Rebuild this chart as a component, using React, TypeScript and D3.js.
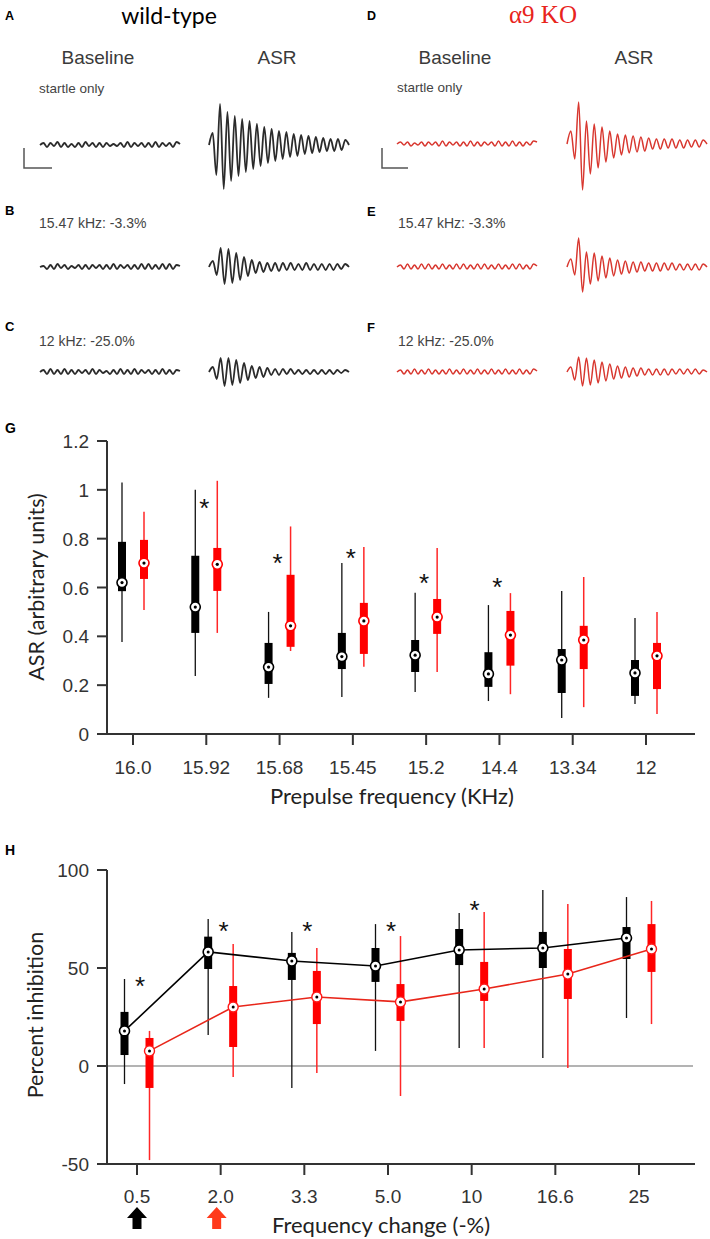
import React from 'react';
import * as d3 from 'd3';

// ---------- Panel G data (ASR vs prepulse frequency) ----------
const gCategories = ['16.0', '15.92', '15.68', '15.45', '15.2', '14.4', '13.34', '12'];
const gWtHigh = [1.03, 1.0, 0.5, 0.7, 0.578, 0.528, 0.586, 0.475];
const gWtQ3 = [0.787, 0.73, 0.373, 0.414, 0.385, 0.335, 0.348, 0.303];
const gWtMedian = [0.62, 0.52, 0.274, 0.317, 0.323, 0.246, 0.303, 0.25];
const gWtQ1 = [0.585, 0.414, 0.205, 0.266, 0.254, 0.193, 0.168, 0.156];
const gWtLow = [0.377, 0.238, 0.148, 0.152, 0.172, 0.135, 0.066, 0.123];
const gKoHigh = [0.91, 1.037, 0.85, 0.766, 0.762, 0.577, 0.643, 0.5];
const gKoQ3 = [0.795, 0.762, 0.652, 0.537, 0.553, 0.504, 0.443, 0.373];
const gKoMedian = [0.7, 0.695, 0.443, 0.463, 0.479, 0.405, 0.385, 0.32];
const gKoQ1 = [0.635, 0.586, 0.357, 0.328, 0.41, 0.28, 0.266, 0.184];
const gKoLow = [0.508, 0.414, 0.34, 0.275, 0.254, 0.163, 0.11, 0.082];
const gStarCats = ['15.92', '15.68', '15.45', '15.2', '14.4'];
const gStarValues = [0.95, 0.725, 0.746, 0.643, 0.627];
const gYTicks = [0, 0.2, 0.4, 0.6, 0.8, 1, 1.2];

// ---------- Panel H data (percent inhibition) ----------
const hCategories = ['0.5', '2.0', '3.3', '5.0', '10', '16.6', '25'];
const hWtHigh = [44.4, 75, 68.4, 72.4, 78, 89.8, 86.2];
const hWtQ3 = [27.6, 66, 57.7, 60.2, 69.9, 68.4, 70.9];
const hWtMedian = [17.9, 58.2, 53.6, 51, 59.2, 60.2, 65.3];
const hWtQ1 = [5.6, 49.5, 43.9, 42.9, 51.5, 50, 54.6];
const hWtLow = [-9.2, 15.8, -11.2, 7.7, 9.2, 4.1, 24.5];
const hKoHigh = [17.9, 62.2, 60.2, 66.3, 78.6, 82.6, 84.2];
const hKoQ3 = [14.3, 40.8, 48.5, 41.8, 53.1, 59.7, 72.4];
const hKoMedian = [7.7, 30.1, 35.2, 32.7, 39.3, 46.9, 59.7];
const hKoQ1 = [-11.2, 9.7, 21.4, 23, 33.2, 34.2, 48];
const hKoLow = [-48, -5.6, -3.6, -15.3, 9.2, -1, 21.4];
const hStarCats = ['0.5', '2.0', '3.3', '5.0', '10'];
const hStarValues = [43.9, 72, 72, 72, 82.7];
const hYTicks = [-50, 0, 50, 100];
const hArrowCats = ['0.5', '2.0'];
const hArrowColors = ['#000000', '#ff3a1c'];

// ---------- Trace data (successive extrema, arbitrary units) ----------
const traceBaseA = [0, 2, -2, 2, -1, 3, -2, 2, -2, 1, -2, 2, -2, 3, -1, 2, -2, 2, -2, 2, -1, 1, -1, 2, -2, 3, -2, 2, -1, 2, -2, 2, -2, 3, -2, 2, -1, 2, -2, 3, 1];
const traceAsrA = [0, 12, -30, 41, -44, 33, -36, 29, -31, 26, -27, 24, -24, 21, -21, 18, -18, 16, -16, 14, -14, 13, -12, 11, -11, 10, -9, 9, -8, 8, -7, 7, -6, 6, -6, 6, -5, 5, 0];
const traceBaseB = [0, 1, -2, 2, -2, 3, -1, 2, -2, 1, -1, 2, -2, 2, -2, 2, -1, 2, -2, 2, -2, 3, -2, 2, -1, 2, -2, 2, -2, 3, -2, 3, -2, 2, -2, 3, -2, 3, -2, 2, 1];
const traceAsrB = [0, 6, -8, 19, -17, 18, -16, 14, -13, 10, -9, 7, -6, 5, -5, 4, -4, 4, -4, 4, -3, 4, -3, 3, -3, 4, -3, 3, -3, 3, -3, 3, -3, 3, -2, 3, 0];
const traceBaseC = [0, 2, -2, 3, -2, 2, -2, 3, -2, 2, -2, 2, -1, 2, -2, 3, -2, 2, -1, 1, -2, 2, -2, 3, -2, 2, -2, 3, -2, 2, -1, 2, -2, 2, -2, 3, -2, 2, -2, 2, 1];
const traceAsrC = [0, 5, -7, 14, -14, 14, -13, 12, -11, 9, -8, 6, -6, 5, -5, 4, -3, 3, -3, 3, -2, 3, -2, 2, -2, 2, -2, 2, -2, 2, -2, 2, -2, 2, -1, 2, 0];
const traceBaseD = [0, 2, -1, 2, -2, 1, -1, 2, -2, 2, -1, 2, -2, 3, -2, 2, -1, 2, -2, 2, -2, 3, -2, 2, -2, 2, -1, 2, -2, 3, -2, 2, -2, 3, -2, 2, -2, 2, -1, 3, 2];
const traceAsrD = [0, 13, -15, 42, -46, 23, -30, 20, -24, 17, -18, 13, -14, 10, -11, 9, -9, 8, -8, 7, -7, 6, -5, 5, -5, 5, -4, 5, -4, 4, -4, 4, -3, 4, -3, 4, 0];
const traceBaseE = [0, 2, -2, 3, -2, 2, -2, 3, -2, 3, -2, 2, -2, 3, -2, 2, -2, 3, -2, 3, -2, 2, -2, 3, -2, 3, -2, 2, -2, 3, -2, 2, -2, 3, -2, 3, -2, 2, -2, 3, 1];
const traceAsrE = [0, 8, -8, 29, -25, 15, -17, 14, -14, 11, -11, 9, -9, 7, -7, 6, -6, 5, -5, 5, -4, 4, -4, 4, -4, 4, -3, 4, -3, 3, -3, 3, -3, 3, -3, 3, 0];
const traceBaseF = [0, 2, -2, 2, -2, 3, -2, 2, -2, 3, -2, 2, -2, 2, -2, 3, -2, 2, -2, 3, -2, 2, -2, 3, -2, 2, -2, 3, -2, 2, -2, 3, -2, 2, -2, 3, -2, 2, -2, 3, 1];
const traceAsrF = [0, 5, -8, 15, -14, 14, -13, 12, -11, 10, -9, 8, -7, 6, -6, 5, -5, 4, -4, 4, -3, 3, -3, 3, -3, 3, -3, 3, -2, 3, -2, 3, -2, 3, -2, 2, 0];

const SANS = '"Liberation Sans", Arial, sans-serif';
const CAL = 'Lato, "Open Sans", sans-serif';
const SERIF = '"Liberation Serif", "Times New Roman", serif';
const BLACK_TRACE = '#2b2b2b';
const RED_TRACE = '#d8372f';

function tracePath(values: number[], x0: number, x1: number, cy: number) {
  const xs = d3.scaleLinear().domain([0, values.length - 1]).range([x0, x1]);
  const ys = d3.scaleLinear().domain([-50, 50]).range([cy + 50, cy - 50]);
  return d3
    .line<number>()
    .x((_, i) => xs(i))
    .y((d) => ys(d))
    .curve(d3.curveMonotoneX)(values) as string;
}

type BoxProps = {
  x: number;
  y: (v: number) => number;
  low: number;
  q1: number;
  med: number;
  q3: number;
  high: number;
  ko: boolean;
};

function Box({ x, y, low, q1, med, q3, high, ko }: BoxProps) {
  const bw = 8;
  const fill = ko ? '#ff0000' : '#000000';
  const wc = ko ? '#ff2626' : '#111111';
  return (
    <g>
      <line x1={x} x2={x} y1={y(high)} y2={y(low)} stroke={wc} strokeWidth={ko ? 1.5 : 1.3} />
      <rect x={x - bw / 2} width={bw} y={y(q3)} height={y(q1) - y(q3)} fill={fill} />
      <circle cx={x} cy={y(med)} r={5} fill="#fff" stroke={fill} strokeWidth={1.6} />
      <circle cx={x} cy={y(med)} r={1.6} fill="#000" />
    </g>
  );
}

function Star({ x, y }: { x: number; y: number }) {
  return (
    <text x={x} y={y + 15} textAnchor="middle" fontFamily={SANS} fontSize={26} fill="#111">
      *
    </text>
  );
}

export default function App() {
  const gx = d3.scalePoint<string>().domain(gCategories).range([133, 646]);
  const gy = d3.scaleLinear().domain([0, 1.2]).range([734, 441]);
  const hx = d3.scalePoint<string>().domain(hCategories).range([137, 639]);
  const hy = d3.scaleLinear().domain([-50, 100]).range([1164, 870]);
  const gOff = 11;
  const hOff = 12.5;

  const hLine = (meds: number[], off: number) =>
    d3
      .line<number>()
      .x((_, i) => (hx(hCategories[i]) as number) + off)
      .y((d) => hy(d))(meds) as string;

  const axisColor = '#333';
  const tickText = '#333';

  const traceRows = [
    { cy: 145, base: traceBaseA, asr: traceAsrA, side: 0 },
    { cy: 267, base: traceBaseB, asr: traceAsrB, side: 0 },
    { cy: 372, base: traceBaseC, asr: traceAsrC, side: 0 },
    { cy: 144, base: traceBaseD, asr: traceAsrD, side: 1 },
    { cy: 267, base: traceBaseE, asr: traceAsrE, side: 1 },
    { cy: 372, base: traceBaseF, asr: traceAsrF, side: 1 },
  ];

  return (
    <svg
      width={710}
      height={1239}
      viewBox="0 0 710 1239"
      style={{ position: 'absolute', left: 0, top: 0, background: '#fff' }}
    >
      <rect x={0} y={0} width={710} height={1239} fill="#fff" />

      {/* ---------- Panel letters ---------- */}
      {[
        ['A', 5, 20, 12.5],
        ['D', 367, 20, 12.5],
        ['B', 5, 215, 13],
        ['E', 367, 216, 13],
        ['C', 5, 331, 13],
        ['F', 367, 332, 13],
        ['G', 5, 433, 14],
        ['H', 5, 855, 14],
      ].map(([t, x, y, s]) => (
        <text key={t as string} x={x as number} y={y as number} fontFamily={SANS} fontWeight="bold" fontSize={s as number} fill="#000">
          {t}
        </text>
      ))}

      {/* ---------- Titles ---------- */}
      <text x={169} y={23.5} textAnchor="middle" fontFamily={CAL} fontSize={23} fill="#000">
        wild-type
      </text>
      <text x={543} y={23} textAnchor="middle" fontFamily={SERIF} fontSize={25} fill="#e8241c">
        α9 KO
      </text>
      {[
        ['Baseline', 98],
        ['ASR', 277],
        ['Baseline', 455],
        ['ASR', 634],
      ].map(([t, x], i) => (
        <text key={i} x={x as number} y={64} textAnchor="middle" fontFamily={SANS} fontSize={19} fill="#3a3a3a">
          {t}
        </text>
      ))}
      <text x={39} y={93} fontFamily={SANS} fontSize={13.5} fill="#444">startle only</text>
      <text x={397} y={92} fontFamily={SANS} fontSize={13.5} fill="#444">startle only</text>
      <text x={39} y={228} fontFamily={SANS} fontSize={14} fill="#444">15.47 kHz: -3.3%</text>
      <text x={398} y={228} fontFamily={SANS} fontSize={14} fill="#444">15.47 kHz: -3.3%</text>
      <text x={39} y={346} fontFamily={SANS} fontSize={14} fill="#444">12 kHz: -25.0%</text>
      <text x={398} y={346} fontFamily={SANS} fontSize={14} fill="#444">12 kHz: -25.0%</text>

      {/* scale bars */}
      <path d="M24,148 V168 H52" fill="none" stroke="#555" strokeWidth={1.5} />
      <path d="M382,148 V168 H408" fill="none" stroke="#555" strokeWidth={1.5} />

      {/* ---------- Traces ---------- */}
      {traceRows.map((r, i) => {
        const bx0 = r.side === 0 ? 40 : 397;
        const ax0 = r.side === 0 ? 209 : 567;
        const col = r.side === 0 ? BLACK_TRACE : RED_TRACE;
        const sw = r.side === 0 ? 1.8 : 1.5;
        return (
          <g key={i}>
            <path d={tracePath(r.base, bx0, bx0 + 140, r.cy)} fill="none" stroke={col} strokeWidth={sw} />
            <path d={tracePath(r.asr, ax0, ax0 + 140, r.cy)} fill="none" stroke={col} strokeWidth={sw} />
          </g>
        );
      })}

      {/* ---------- Panel G ---------- */}
      <g>
        <line x1={107} x2={107} y1={gy(1.2)} y2={gy(0)} stroke={axisColor} strokeWidth={2} />
        <line x1={106} x2={695} y1={gy(0)} y2={gy(0)} stroke={axisColor} strokeWidth={2} />
        {gYTicks.map((t) => (
          <g key={t}>
            <line x1={97} x2={107} y1={gy(t)} y2={gy(t)} stroke={axisColor} strokeWidth={2} />
            <text x={89} y={gy(t) + 7} textAnchor="end" fontFamily={SANS} fontSize={19} fill={tickText}>
              {String(t)}
            </text>
          </g>
        ))}
        {gCategories.map((c) => (
          <g key={c}>
            <line x1={gx(c)} x2={gx(c)} y1={gy(0)} y2={gy(0) + 11} stroke={axisColor} strokeWidth={2} />
            <text x={gx(c)} y={774} textAnchor="middle" fontFamily={SANS} fontSize={19} fill={tickText}>
              {c}
            </text>
          </g>
        ))}
        <text x={392} y={804} textAnchor="middle" fontFamily={CAL} fontSize={22} fill="#222">
          Prepulse frequency (KHz)
        </text>
        <text
          transform={`translate(44,${587}) rotate(-90)`}
          textAnchor="middle"
          fontFamily={CAL}
          fontSize={21.5}
          fill="#222"
        >
          ASR (arbitrary units)
        </text>
        {gCategories.map((c, i) => (
          <g key={c}>
            <Box x={(gx(c) as number) - gOff} y={gy} low={gWtLow[i]} q1={gWtQ1[i]} med={gWtMedian[i]} q3={gWtQ3[i]} high={gWtHigh[i]} ko={false} />
            <Box x={(gx(c) as number) + gOff} y={gy} low={gKoLow[i]} q1={gKoQ1[i]} med={gKoMedian[i]} q3={gKoQ3[i]} high={gKoHigh[i]} ko={true} />
          </g>
        ))}
        {gStarCats.map((c, i) => (
          <Star key={c} x={(gx(c) as number) - 2} y={gy(gStarValues[i])} />
        ))}
      </g>

      {/* ---------- Panel H ---------- */}
      <g>
        <line x1={107} x2={693} y1={hy(0)} y2={hy(0)} stroke="#9a9a9a" strokeWidth={1.5} />
        <line x1={107} x2={107} y1={hy(100)} y2={hy(-50)} stroke={axisColor} strokeWidth={2} />
        <line x1={106} x2={695} y1={hy(-50)} y2={hy(-50)} stroke={axisColor} strokeWidth={2} />
        {hYTicks.map((t) => (
          <g key={t}>
            <line x1={97} x2={107} y1={hy(t)} y2={hy(t)} stroke={axisColor} strokeWidth={2} />
            <text x={89} y={hy(t) + 7} textAnchor="end" fontFamily={SANS} fontSize={19} fill={tickText}>
              {String(t)}
            </text>
          </g>
        ))}
        {hCategories.map((c) => (
          <g key={c}>
            <line x1={hx(c)} x2={hx(c)} y1={hy(-50)} y2={hy(-50) + 11} stroke={axisColor} strokeWidth={2} />
            <text x={hx(c)} y={1203} textAnchor="middle" fontFamily={SANS} fontSize={19} fill={tickText}>
              {c}
            </text>
          </g>
        ))}
        <text x={381} y={1233} textAnchor="middle" fontFamily={CAL} fontSize={22} fill="#222">
          Frequency change (-%)
        </text>
        <text
          transform={`translate(43,${1015}) rotate(-90)`}
          textAnchor="middle"
          fontFamily={CAL}
          fontSize={21.5}
          fill="#222"
        >
          Percent inhibition
        </text>
        {hCategories.map((c, i) => (
          <g key={c}>
            <line x1={(hx(c) as number) - hOff} x2={(hx(c) as number) - hOff} y1={hy(hWtHigh[i])} y2={hy(hWtLow[i])} stroke="#111" strokeWidth={1.3} />
            <rect x={(hx(c) as number) - hOff - 4} width={8} y={hy(hWtQ3[i])} height={hy(hWtQ1[i]) - hy(hWtQ3[i])} fill="#000" />
            <line x1={(hx(c) as number) + hOff} x2={(hx(c) as number) + hOff} y1={hy(hKoHigh[i])} y2={hy(hKoLow[i])} stroke="#ff2626" strokeWidth={1.5} />
            <rect x={(hx(c) as number) + hOff - 4} width={8} y={hy(hKoQ3[i])} height={hy(hKoQ1[i]) - hy(hKoQ3[i])} fill="#ff0000" />
          </g>
        ))}
        <path d={hLine(hWtMedian, -hOff)} fill="none" stroke="#000" strokeWidth={1.6} />
        <path d={hLine(hKoMedian, hOff)} fill="none" stroke="#e8261a" strokeWidth={1.6} />
        {hCategories.map((c, i) => (
          <g key={c}>
            <circle cx={(hx(c) as number) - hOff} cy={hy(hWtMedian[i])} r={5} fill="#fff" stroke="#000" strokeWidth={1.6} />
            <circle cx={(hx(c) as number) - hOff} cy={hy(hWtMedian[i])} r={1.5} fill="#000" />
            <circle cx={(hx(c) as number) + hOff} cy={hy(hKoMedian[i])} r={5} fill="#fff" stroke="#ff1a1a" strokeWidth={1.4} />
            <circle cx={(hx(c) as number) + hOff} cy={hy(hKoMedian[i])} r={1.5} fill="#000" />
          </g>
        ))}
        {hStarCats.map((c, i) => (
          <Star key={c} x={(hx(c) as number) + 3} y={hy(hStarValues[i])} />
        ))}
        {hArrowCats.map((c, i) => {
          const cx = (hx(c) as number) - (i === 0 ? 0 : 4);
          return (
            <path
              key={c}
              d={`M${cx},1207 L${cx + 10},1218 L${cx + 4.5},1218 L${cx + 4.5},1229 L${cx - 4.5},1229 L${cx - 4.5},1218 L${cx - 10},1218 Z`}
              fill={hArrowColors[i]}
            />
          );
        })}
      </g>
    </svg>
  );
}
